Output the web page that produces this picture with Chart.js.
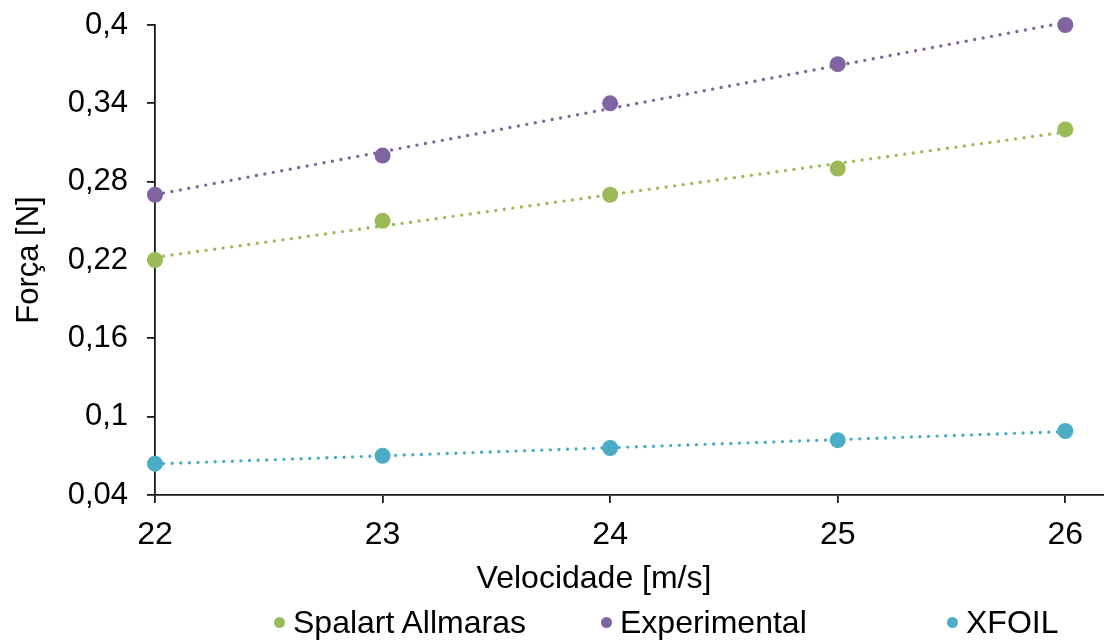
<!DOCTYPE html>
<html>
<head>
<meta charset="utf-8">
<script src="https://cdn.jsdelivr.net/npm/chart.js@4/dist/chart.umd.min.js"></script>
<style>
  html, body { margin: 0; padding: 0; background: #fff; }
  #wrap { width: 1104px; height: 643px; position: relative; font-family: 'Liberation Sans', Arial, sans-serif; }
  #chartBox { position: absolute; left: 0; top: 0; width: 1104px; height: 643px; }
  #xTitle { position: absolute; left: 394px; width: 400px; top: 557px; text-align: center; font-size: 32px; line-height: 40px; color: #000; }
  .legend-item { position: absolute; top: 602px; height: 40px; display: flex; align-items: center; font-size: 32px; color: #000; white-space: nowrap; }
  .legend-item .dot { width: 11px; height: 11px; border-radius: 50%; margin-right: 8px; }
  .legend-item:nth-child(1) { left: 274px; }
  .legend-item:nth-child(2) { left: 601px; }
  .legend-item:nth-child(3) { left: 947px; }
</style>
</head>
<body>
<div id="wrap">
  <div id="chartBox"><canvas id="forceChart"></canvas></div>
  <div id="xTitle">Velocidade [m/s]</div>
  <div id="legend"></div>
</div>
<script>
// Velocidade [m/s]
const velocities = [22, 23, 24, 25, 26];
// Força [N] per model
const spalartValues = [0.22, 0.25, 0.27, 0.29, 0.32];
const experimentalValues = [0.27, 0.30, 0.34, 0.37, 0.40];
const xfoilValues = [0.064, 0.07, 0.076, 0.082, 0.089];
const seriesNames = ['Spalart Allmaras', 'Experimental', 'XFOIL'];
const yTicks = [0.04, 0.1, 0.16, 0.22, 0.28, 0.34, 0.4];
const xTicks = [22, 23, 24, 25, 26];

const colors = ['#9BBB59', '#8064A2', '#4BACC6'];
const FONT = "'Liberation Sans', Arial, sans-serif";
const AXIS = '#1a1a1a';

// least-squares fit, evaluated at the ends of the x range
function trendline(xs, ys) {
  const n = xs.length;
  const mx = xs.reduce((a, b) => a + b, 0) / n;
  const my = ys.reduce((a, b) => a + b, 0) / n;
  let sxy = 0, sxx = 0;
  for (let i = 0; i < n; i++) {
    sxy += (xs[i] - mx) * (ys[i] - my);
    sxx += (xs[i] - mx) * (xs[i] - mx);
  }
  const slope = sxy / sxx;
  const x0 = xs[0], x1 = xs[n - 1];
  return [
    { x: x0, y: my + slope * (x0 - mx) },
    { x: x1, y: my + slope * (x1 - mx) }
  ];
}

const allValues = [spalartValues, experimentalValues, xfoilValues];
const datasets = [];

allValues.forEach((vals, i) => {
  datasets.push({
    label: seriesNames[i],
    data: velocities.map((v, j) => ({ x: v, y: vals[j] })),
    backgroundColor: colors[i],
    borderColor: colors[i],
    pointRadius: 8,
    pointHoverRadius: 8,
    pointBorderWidth: 0,
    showLine: false,
    clip: false,
    order: 1
  });
});

allValues.forEach((vals, i) => {
  datasets.push({
    label: 'trend' + i,
    data: trendline(velocities, vals),
    borderColor: colors[i],
    borderWidth: 3.4,
    borderDash: [0, 8.6],
    borderCapStyle: 'round',
    pointRadius: 0,
    showLine: true,
    fill: false,
    clip: false,
    order: 2
  });
});

// legend below the chart
const legendEl = document.getElementById('legend');
seriesNames.forEach((name, i) => {
  const item = document.createElement('div');
  item.className = 'legend-item';
  const dot = document.createElement('span');
  dot.className = 'dot';
  dot.style.background = colors[i];
  item.appendChild(dot);
  item.appendChild(document.createTextNode(name));
  legendEl.appendChild(item);
});

const fmt = v => Number(v.toFixed(3)).toString().replace('.', ',');

new Chart(document.getElementById('forceChart'), {
  type: 'scatter',
  data: { datasets },
  options: {
    responsive: true,
    maintainAspectRatio: false,
    animation: false,
    layout: { autoPadding: false, padding: { left: 0, right: 0, top: 25, bottom: 45 } },
    plugins: {
      tooltip: { enabled: false },
      legend: { display: false }
    },
    scales: {
      x: {
        type: 'linear',
        min: 22,
        max: 26.17,
        afterBuildTicks: axis => { axis.ticks = xTicks.map(v => ({ value: v })); },
        afterFit: axis => {
          axis.height = 103;
          axis.paddingLeft = 0;
          axis.paddingRight = 0;
        },
        ticks: {
          color: '#000',
          font: { family: FONT, size: 32 },
          padding: 13,
          maxRotation: 0,
          callback: v => fmt(v)
        },
        grid: { drawOnChartArea: false, drawTicks: true, tickLength: 8, color: AXIS, lineWidth: 1.8 },
        border: { color: AXIS, width: 1.8 },
        title: { display: false }
      },
      y: {
        min: 0.04,
        max: 0.4,
        afterBuildTicks: axis => { axis.ticks = yTicks.map(v => ({ value: v })); },
        afterFit: axis => {
          axis.width = 155;
          axis.paddingTop = 0;
          axis.paddingBottom = 0;
        },
        ticks: {
          color: '#000',
          font: { family: FONT, size: 31 },
          padding: 19,
          callback: v => fmt(v)
        },
        grid: { drawOnChartArea: false, drawTicks: true, tickLength: 8, color: AXIS, lineWidth: 1.8 },
        border: { color: AXIS, width: 1.8 },
        title: {
          display: true,
          text: 'Força [N]',
          color: '#000',
          font: { family: FONT, size: 31 },
          padding: { top: 11, bottom: 0 }
        }
      }
    }
  }
});
</script>
</body>
</html>
